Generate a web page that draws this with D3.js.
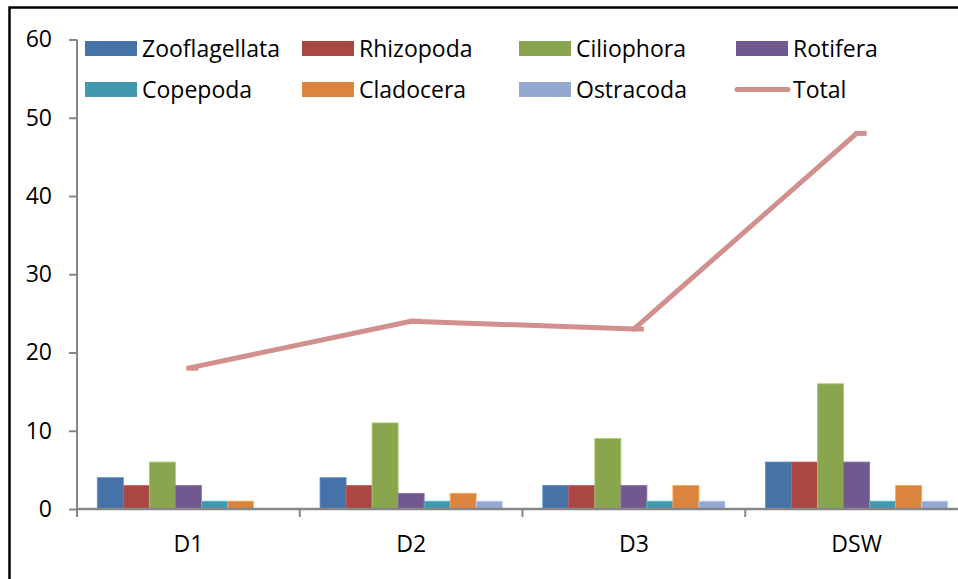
<!DOCTYPE html>
<html>
<head>
<meta charset="utf-8">
<script src="https://cdn.jsdelivr.net/npm/d3@7"></script>
<style>
  html, body { margin: 0; padding: 0; background: #fff; }
  svg { display: block; }
  text { font-family: "Open Sans", "Liberation Sans", sans-serif; fill: #000; }
</style>
</head>
<body>
<svg id="chart" width="958" height="579"></svg>
<script>
// Sampling sites
const categories = ["D1", "D2", "D3", "DSW"];

// Number of taxa per group at each site
const seriesNames = ["Zooflagellata", "Rhizopoda", "Ciliophora", "Rotifera", "Copepoda", "Cladocera", "Ostracoda"];
const zooflagellata = [4, 4, 3, 6];
const rhizopoda     = [3, 3, 3, 6];
const ciliophora    = [6, 11, 9, 16];
const rotifera      = [3, 2, 3, 6];
const copepoda      = [1, 1, 1, 1];
const cladocera     = [1, 2, 3, 3];
const ostracoda     = [0, 1, 1, 1];
const total         = [18, 24, 23, 48];

const yTicks = [0, 10, 20, 30, 40, 50, 60];

const barColors = ["#4572A7", "#AA4643", "#89A54E", "#71588F", "#4198AF", "#DB843D", "#93A9CF"];
const totalColor = "#D18F8E";

const seriesValues = [zooflagellata, rhizopoda, ciliophora, rotifera, copepoda, cladocera, ostracoda];
const barData = [];
categories.forEach((c, ci) => {
  seriesNames.forEach((s, si) => barData.push({ cat: c, series: s, si, value: seriesValues[si][ci] }));
});

const svg = d3.select("#chart");
const fontSize = 23;

// Outer chart frame (runs past the right and bottom edges of the page)
svg.append("rect")
  .attr("x", 9.5).attr("y", 7.5).attr("width", 980).attr("height", 600)
  .attr("fill", "none").attr("stroke", "#000").attr("stroke-width", 2.5);

const plotLeft = 77, plotRight = 968, plotTop = 39.5, plotBottom = 509;

const x = d3.scaleBand().domain(categories).range([plotLeft, plotRight]).padding(0);
// seven bars per site with a gap on each side of the group
const xInner = d3.scaleBand().domain(seriesNames)
  .range([0, x.bandwidth()]).paddingInner(0).paddingOuter(0.78);
const y = d3.scaleLinear().domain([0, 60]).range([plotBottom, plotTop]);

// Bars
svg.append("g").selectAll("rect").data(barData.filter(d => d.value > 0)).join("rect")
  .attr("x", d => x(d.cat) + xInner(d.series))
  .attr("y", d => y(d.value))
  .attr("width", xInner.bandwidth())
  .attr("height", d => y(0) - y(d.value))
  .attr("fill", d => barColors[d.si])
  .attr("stroke", d => d3.color(barColors[d.si]).brighter(0.6))
  .attr("stroke-width", 0.8);

// Y axis
const yAxis = d3.axisLeft(y).tickValues(yTicks).tickSize(8).tickPadding(17);
const gy = svg.append("g").attr("transform", `translate(${plotLeft},0)`).call(yAxis);
gy.select(".domain").remove();
gy.selectAll(".tick line").attr("stroke", "#868686").attr("stroke-width", 2);
gy.selectAll(".tick text").attr("font-size", fontSize).attr("font-family", null).attr("fill", "#000");

// X axis with ticks on site boundaries
const gx = svg.append("g").attr("transform", `translate(0,${plotBottom})`);
gx.append("line").attr("x1", plotLeft).attr("x2", plotRight).attr("stroke", "#868686").attr("stroke-width", 2.5);
const boundaries = categories.map(c => x(c)).concat([plotRight]);
gx.selectAll(".bt").data(boundaries).join("line").attr("class", "bt")
  .attr("x1", d => d).attr("x2", d => d).attr("y1", 0).attr("y2", 8)
  .attr("stroke", "#868686").attr("stroke-width", 2);
gx.selectAll(".cl").data(categories).join("text").attr("class", "cl")
  .attr("x", d => x(d) + x.bandwidth() / 2).attr("y", 43)
  .attr("text-anchor", "middle").attr("font-size", fontSize).text(d => d);

// Y axis line
svg.append("line").attr("x1", plotLeft).attr("x2", plotLeft).attr("y1", plotTop).attr("y2", plotBottom + 8)
  .attr("stroke", "#868686").attr("stroke-width", 2);

// Total line with short dash markers
const lineGen = d3.line().x((d, i) => x(categories[i]) + x.bandwidth() / 2).y(d => y(d));
svg.append("path").datum(total).attr("d", lineGen)
  .attr("fill", "none").attr("stroke", totalColor).attr("stroke-width", 5)
  .attr("stroke-linejoin", "round");
svg.append("g").selectAll("rect").data(total).join("rect")
  .attr("x", (d, i) => x(categories[i]) + x.bandwidth() / 2 - 2)
  .attr("y", d => y(d) - 2.5).attr("width", 12).attr("height", 5)
  .attr("fill", totalColor);

// Legend
const legendItems = seriesNames.map((s, i) => ({ name: s, color: barColors[i], type: "bar" }))
  .concat([{ name: "Total", color: totalColor, type: "line" }]);
const colX = [85, 302, 519, 736];
const rowY = [48.5, 89.5];
const lg = svg.append("g").selectAll("g").data(legendItems).join("g")
  .attr("transform", (d, i) => `translate(${colX[i % 4]},${rowY[Math.floor(i / 4)]})`);
lg.filter(d => d.type === "bar").append("rect")
  .attr("x", 0).attr("y", -7.5).attr("width", 52).attr("height", 15).attr("fill", d => d.color);
lg.filter(d => d.type === "line").append("line")
  .attr("x1", 1).attr("x2", 52).attr("y1", 0).attr("y2", 0)
  .attr("stroke", d => d.color).attr("stroke-width", 5).attr("stroke-linecap", "round");
lg.append("text").attr("x", 57).attr("y", 8).attr("font-size", fontSize).text(d => d.name);
</script>
</body>
</html>
